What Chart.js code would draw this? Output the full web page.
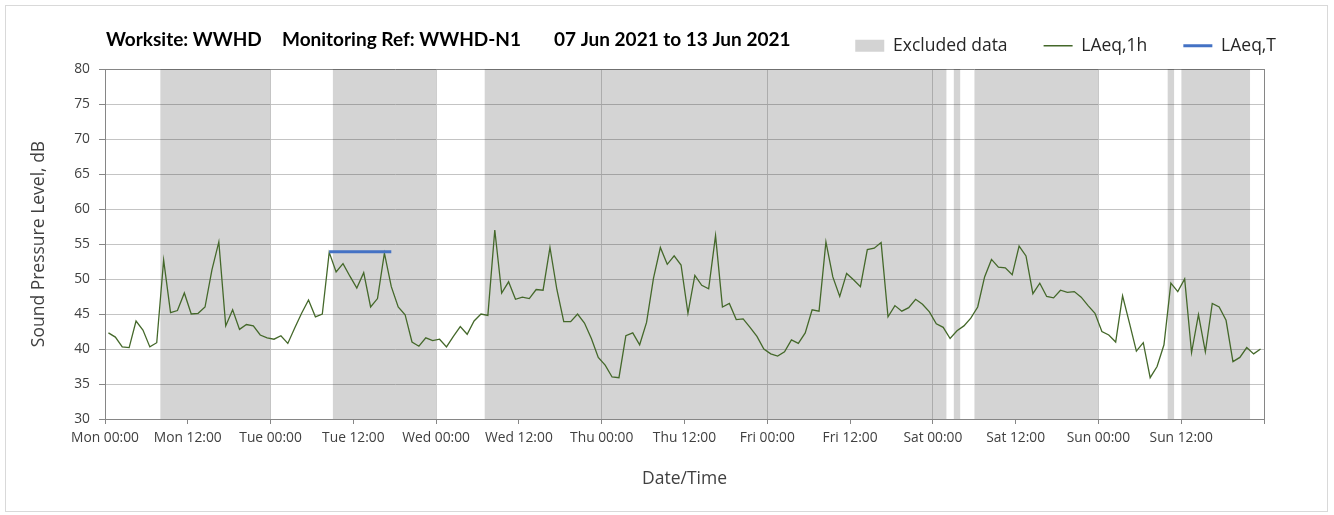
<!DOCTYPE html>
<html>
<head>
<meta charset="utf-8">
<title>WWHD-N1 noise monitoring</title>
<script src="https://cdn.jsdelivr.net/npm/chart.js@4.4.1/dist/chart.umd.min.js"></script>
<style>
    html, body { margin: 0; padding: 0; background: #fff; }
    #wrap { width: 1334px; height: 515px; }
</style>
</head>
<body>
<div id="wrap"><canvas id="graficoDados" width="1334" height="515"></canvas></div>
<script>
const dayNames = ['Mon', 'Tue', 'Wed', 'Thu', 'Fri', 'Sat', 'Sun'];
const titleParts = ['Worksite: WWHD', 'Monitoring Ref: WWHD-N1', '07 Jun 2021 to 13 Jun 2021'];

// LAeq,1h, one value per hour starting Mon 00:00
const laeq1h = [
    42.3, 41.7, 40.3, 40.2, 44.0, 42.7, 40.3, 40.9,
    52.7, 45.2, 45.5, 48.0, 45.0, 45.1, 46.0, 51.3,
    55.3, 43.3, 45.6, 42.8, 43.5, 43.3, 42.0, 41.6,
    41.4, 41.9, 40.8, 43.0, 45.1, 47.0, 44.6, 45.0,
    53.8, 51.0, 52.2, 50.4, 48.7, 50.9, 46.0, 47.2,
    53.7, 48.9, 46.0, 44.9, 41.0, 40.4, 41.6, 41.2,
    41.4, 40.3, 41.8, 43.2, 42.1, 44.0, 45.0, 44.8,
    57.0, 48.0, 49.6, 47.1, 47.4, 47.2, 48.5, 48.4,
    54.5, 48.5, 43.9, 43.9, 45.0, 43.7, 41.5, 38.8,
    37.7, 36.0, 35.9, 41.9, 42.3, 40.6, 43.8, 50.1,
    54.5, 52.1, 53.3, 52.0, 45.1, 50.5, 49.1, 48.6,
    56.2, 46.0, 46.5, 44.2, 44.3, 43.1, 41.8, 40.0,
    39.3, 39.0, 39.6, 41.3, 40.8, 42.3, 45.6, 45.4,
    55.3, 50.3, 47.5, 50.8, 49.9, 48.9, 54.2, 54.4,
    55.2, 44.6, 46.2, 45.4, 45.9, 47.1, 46.4, 45.3,
    43.6, 43.1, 41.5, 42.6, 43.3, 44.4, 46.0, 50.3,
    52.8, 51.7, 51.6, 50.6, 54.7, 53.3, 47.9, 49.4,
    47.5, 47.3, 48.4, 48.1, 48.2, 47.4, 46.2, 45.1,
    42.5, 42.0, 41.0, 47.6, 43.7, 39.7, 40.9, 35.9,
    37.5, 40.6, 49.4, 48.2, 50.0, 39.5, 44.9, 39.6,
    46.5, 46.0, 44.1, 38.2, 38.8, 40.2, 39.3, 40.0
];

// excluded periods, in hours from Mon 00:00
const excludedStart = [8, 33, 55, 123, 126, 154, 156];
const excludedEnd = [24, 48, 122, 124, 144, 155, 166];

// LAeq,T over the assessment period (hours from Mon 00:00)
const periodHours = [32.5, 41.5];
const periodLevel = 53.9;

const yMin = 30;
const yMax = 80;
const totalHours = 168;

const fonte = '"Open Sans", Lato, sans-serif';
const fonteTitulo = 'Lato, "Open Sans", sans-serif';

const hourPoints = laeq1h.map(function (v, i) {
    return { x: i + 0.5, y: v };
});

const excludedPoints = [];
excludedStart.forEach(function (s, k) {
    excludedPoints.push({ x: s, y: yMax }, { x: excludedEnd[k], y: yMax }, { x: excludedEnd[k], y: null });
});

const periodPoints = periodHours.map(function (h) {
    return { x: h, y: periodLevel };
});

const moldura = {
    id: 'moldura',
    beforeDraw: function (chart) {
        const ctx = chart.ctx;
        ctx.save();
        ctx.fillStyle = '#ffffff';
        ctx.fillRect(0, 0, chart.width, chart.height);
        ctx.strokeStyle = '#d9d9d9';
        ctx.lineWidth = 1;
        ctx.strokeRect(5.5, 5.5, chart.width - 12, chart.height - 9);
        ctx.restore();
    },
    afterDraw: function (chart) {
        const ctx = chart.ctx;
        const xs = [106, 282, 554];
        ctx.save();
        ctx.font = 'bold 19px ' + fonteTitulo;
        ctx.fillStyle = '#000000';
        ctx.textBaseline = 'middle';
        titleParts.forEach(function (t, i) {
            ctx.fillText(t, xs[i], 40);
        });
        ctx.restore();
    }
};

new Chart(document.getElementById('graficoDados'), {
    type: 'line',
    data: {
        datasets: [{
            label: 'Excluded data',
            data: excludedPoints,
            backgroundColor: 'rgba(0, 0, 0, 0.17)',
            borderWidth: 0,
            pointRadius: 0,
            fill: 'start',
            spanGaps: false,
            order: 3,
            legendStyle: 'rect',
            legendColor: '#d3d3d3',
            legendFill: '#d3d3d3',
            legendWidth: 0
        }, {
            label: 'LAeq,1h',
            data: hourPoints,
            borderColor: '#44682a',
            borderWidth: 1.3,
            pointRadius: 0,
            fill: false,
            order: 2,
            legendStyle: 'line',
            legendColor: '#44682a',
            legendFill: '#44682a',
            legendWidth: 1.3
        }, {
            label: 'LAeq,T',
            data: periodPoints,
            borderColor: '#4472c4',
            borderWidth: 3,
            pointRadius: 0,
            fill: false,
            order: 1,
            legendStyle: 'line',
            legendColor: '#4472c4',
            legendFill: '#4472c4',
            legendWidth: 3
        }]
    },
    options: {
        responsive: false,
        animation: false,
        devicePixelRatio: 1,
        layout: { padding: { left: 0, right: 22, top: 1, bottom: 0 } },
        plugins: {
            tooltip: { enabled: false },
            title: { display: false },
            legend: {
                display: true,
                position: 'top',
                align: 'end',
                labels: {
                    usePointStyle: true,
                    pointStyleWidth: 29,
                    boxHeight: 12,
                    padding: 36,
                    color: '#262626',
                    font: { family: fonte, size: 17.5 },
                    generateLabels: function (chart) {
                        return chart.data.datasets.map(function (ds, i) {
                            return {
                                text: ds.label,
                                fillStyle: ds.legendFill,
                                strokeStyle: ds.legendColor,
                                lineWidth: ds.legendWidth,
                                pointStyle: ds.legendStyle,
                                hidden: false,
                                datasetIndex: i,
                                fontColor: '#262626'
                            };
                        });
                    }
                }
            }
        },
        scales: {
            x: {
                type: 'linear',
                position: 'bottom',
                min: 0,
                max: totalHours,
                afterFit: function (scale) { scale.height = 96; },
                ticks: {
                    stepSize: 12,
                    autoSkip: false,
                    maxRotation: 0,
                    padding: 6,
                    color: '#404040',
                    font: { family: fonte, size: 13.8 },
                    callback: function (value) {
                        if (value >= totalHours) return '';
                        return dayNames[Math.floor(value / 24)] + (value % 24 === 0 ? ' 00:00' : ' 12:00');
                    }
                },
                grid: {
                    color: function (c) {
                        const v = c.tick ? c.tick.value : 0;
                        if (v === totalHours) return '#868686';
                        return v % 24 === 0 ? '#cfcfcf' : 'rgba(0,0,0,0)';
                    },
                    tickColor: '#868686',
                    tickLength: 5
                },
                border: { color: '#868686', width: 1 },
                title: {
                    display: true,
                    text: 'Date/Time',
                    color: '#404040',
                    font: { family: fonte, size: 17.5 },
                    padding: { top: 0, bottom: 25 }
                }
            },
            xTopo: {
                type: 'linear',
                position: 'top',
                display: true,
                afterFit: function (scale) { scale.height = 4.5; },
                ticks: { display: false },
                grid: { display: false },
                border: { display: false }
            },
            y: {
                type: 'linear',
                position: 'left',
                min: yMin,
                max: yMax,
                afterFit: function (scale) { scale.width = 105; },
                ticks: {
                    stepSize: 5,
                    padding: 9,
                    color: '#404040',
                    font: { family: fonte, size: 13.8 }
                },
                grid: {
                    color: function (c) {
                        return c.tick && c.tick.value === yMax ? '#868686' : '#c4c4c4';
                    },
                    tickColor: '#868686',
                    tickLength: 6
                },
                border: { color: '#868686', width: 1 },
                title: {
                    display: true,
                    text: 'Sound Pressure Level, dB',
                    color: '#404040',
                    font: { family: fonte, size: 17.5 },
                    padding: { top: 29, bottom: 0 }
                }
            },
            yDireita: {
                type: 'linear',
                position: 'right',
                display: true,
                afterFit: function (scale) { scale.width = 48; },
                ticks: { display: false },
                grid: { display: false },
                border: { display: false }
            }
        }
    },
    plugins: [moldura]
});
</script>
</body>
</html>
